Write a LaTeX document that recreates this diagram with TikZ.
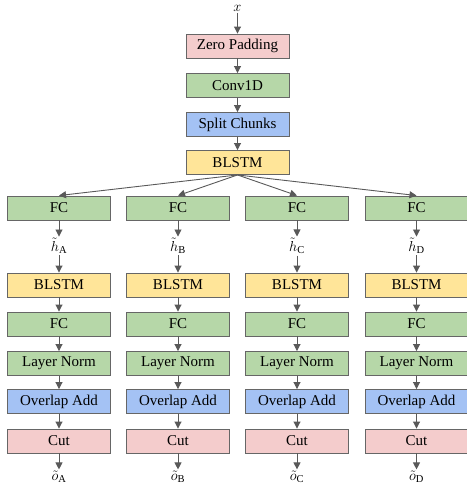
\documentclass[tikz,border=0pt]{standalone}
\usepackage{fontspec}
\setmainfont{Liberation Serif}
\usetikzlibrary{arrows.meta}
\definecolor{cpink}{HTML}{F4CCCC}
\definecolor{cgreen}{HTML}{B6D7A8}
\definecolor{cblue}{HTML}{A4C2F4}
\definecolor{cyellow}{HTML}{FFE599}
\definecolor{cborder}{HTML}{666666}
\definecolor{carrow}{HTML}{595959}
\begin{document}
\begin{tikzpicture}[x=1pt,y=-1pt,
  blk/.style={draw=cborder, line width=0.9pt, minimum width=103pt, minimum height=24pt, inner sep=0pt, font=\fontsize{15}{17}\selectfont},
  pinkbox/.style={blk, fill=cpink},
  greenbox/.style={blk, fill=cgreen},
  bluebox/.style={blk, fill=cblue},
  yellowbox/.style={blk, fill=cyellow},
  lbl/.style={inner sep=1.5pt, font=\fontsize{15}{17}\selectfont},
  arr/.style={draw=carrow, line width=0.9pt, -{Triangle[length=7pt,width=7pt]}}
]
\useasboundingbox (0,0) rectangle (466,490);
\node[lbl] (x) at (237.5,8) {$x$};
\node[pinkbox] (zp) at (237.5,46) {Zero Padding};
\node[greenbox] (conv) at (237.5,85.5) {Conv1D};
\node[bluebox] (split) at (237.5,124.5) {Split Chunks};
\node[yellowbox] (bl) at (237.5,162.5) {BLSTM};
\draw[arr] (x) -- (zp);
\draw[arr] (zp) -- (conv);
\draw[arr] (conv) -- (split);
\draw[arr] (split) -- (bl);
\foreach \i/\cx in {A/59, B/178, C/297, D/416.5} {
  \node[greenbox] (fc1\i) at (\cx,208) {FC};
  \node[lbl] (h\i) at (\cx,246) {$\tilde{h}_{\mathrm{\i}}$};
  \node[yellowbox] (bls\i) at (\cx,285) {BLSTM};
  \node[greenbox] (fc2\i) at (\cx,324) {FC};
  \node[greenbox] (ln\i) at (\cx,363.5) {Layer Norm};
  \node[bluebox] (oa\i) at (\cx,401.5) {Overlap Add};
  \node[pinkbox] (cut\i) at (\cx,441) {Cut};
  \node[lbl] (o\i) at (\cx,477) {$\tilde{o}_{\mathrm{\i}}$};
  \draw[arr] (bl.south) -- (fc1\i.north);
  \draw[arr] (fc1\i) -- (h\i);
  \draw[arr] (h\i) -- (bls\i);
  \draw[arr] (bls\i) -- (fc2\i);
  \draw[arr] (fc2\i) -- (ln\i);
  \draw[arr] (ln\i) -- (oa\i);
  \draw[arr] (oa\i) -- (cut\i);
  \draw[arr] (cut\i) -- (o\i);
}
\end{tikzpicture}
\end{document}
